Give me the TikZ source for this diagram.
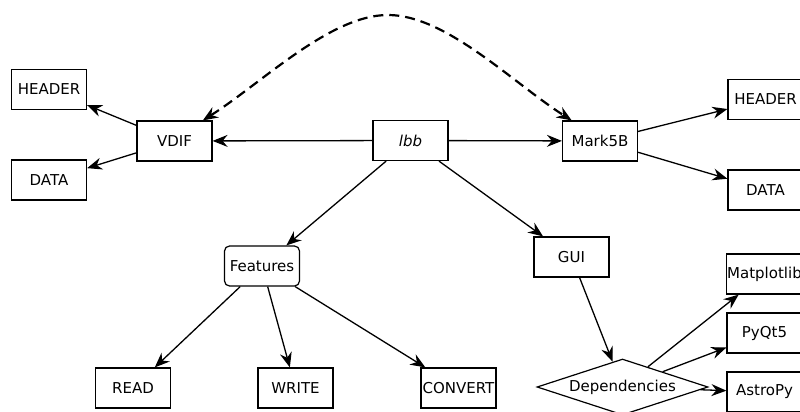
\documentclass[tikz,border=0pt]{standalone}
\usepackage{fontspec}
\setmainfont{DejaVu Sans}
\usetikzlibrary{arrows.meta,shapes.geometric}
\begin{document}
\begin{tikzpicture}[x=1pt,y=-1pt,
  every node/.style={font=\fontsize{15}{18}\selectfont},
  box/.style={draw,line width=1.2pt,minimum width=75pt,minimum height=40pt,inner sep=0.5pt},
  rbox/.style={box,rounded corners=5pt},
  dia/.style={draw,line width=1.2pt,shape=diamond,aspect=3,inner sep=0pt,
    minimum width=171pt,minimum height=56pt},
  tip/.tip={Stealth[length=15pt,width=12pt,inset=5pt]},
  link/.style={line width=1.3pt,-tip},
  duo/.style={line width=2.2pt,dash pattern=on 10pt off 6pt,tip-tip}]
\path[use as bounding box] (0,0) rectangle (800,412);
\clip (0,0) rectangle (800,412);

% format handlers
\node[box]  (lbb)   at (410.5,140.5) {\itshape lbb};
\node[box]  (vdif)  at (174.5,141)   {VDIF};
\node[box]  (mark)  at (600,141)     {Mark5B};
\node[box]  (hdrL)  at (49,89.5)     {HEADER};
\node[box]  (datL)  at (49,180)      {DATA};
\node[box]  (hdrR)  at (765.5,99.5)  {HEADER};
\node[box]  (datR)  at (765.5,190)   {DATA};

% features
\node[rbox] (feat)  at (262,266)     {Features};
\node[box]  (read)  at (133,388)     {READ};
\node[box]  (write) at (295.5,388)   {WRITE};
\node[box]  (conv)  at (458.5,388)   {CONVERT};

% GUI and its dependencies
\node[box]  (gui)   at (571.5,257)   {GUI};
\node[dia]  (deps)  at (622.5,387)   {Dependencies};
\node[box]  (mpl)   at (764.5,274)   {Matplotlib};
\node[box]  (qt)    at (764.5,333)   {PyQt5};
\node[box]  (astro) at (764.5,392)   {AstroPy};

% connectors
\draw[link] (lbb) -- (vdif);
\draw[link] (lbb) -- (mark);
\draw[link] (lbb) -- (feat);
\draw[link] (lbb) -- (gui);
\draw[link] (vdif) -- (hdrL);
\draw[link] (vdif) -- (datL);
\draw[link] (mark) -- (hdrR);
\draw[link] (mark) -- (datR);
\draw[link] (feat) -- (read);
\draw[link] (feat) -- (write);
\draw[link] (feat) -- (conv);
\draw[link] (gui) -- (deps);
\draw[link] (deps) -- (mpl);
\draw[link] (deps) -- (qt);
\draw[link] (deps) -- (astro);

% two-way link between the formats, arching over lbb
\draw[duo] (vdif.36) .. controls (262,83) and (330,15) .. (388,15)
                     .. controls (446,15) and (513,83) .. (mark.144);
\end{tikzpicture}
\end{document}
